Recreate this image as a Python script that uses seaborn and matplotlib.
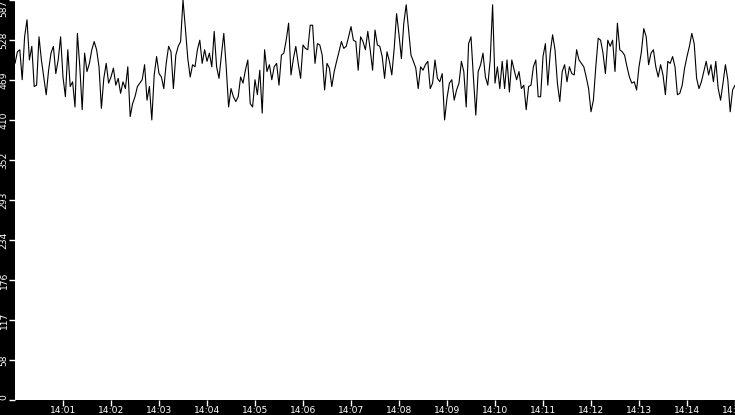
import matplotlib
matplotlib.use("Agg")
import matplotlib.pyplot as plt
import numpy as np
import pandas as pd
import seaborn as sns

# ---- data (one sample every 3 s from 14:00:00) ----
start_time = "2024-01-01 14:00:00"
sample_step = "3s"
values = [
    494, 511, 514, 470, 533, 558, 499, 519, 460, 462,
    533, 499, 474, 448, 484, 509, 519, 479, 499, 533,
    474, 445, 514, 460, 467, 430, 538, 489, 426, 509,
    482, 494, 514, 526, 514, 489, 428, 472, 494, 465,
    474, 487, 462, 472, 450, 467, 457, 489, 416, 435,
    445, 460, 465, 470, 492, 440, 460, 411, 477, 504,
    479, 474, 457, 494, 519, 511, 457, 506, 519, 526,
    587, 545, 501, 474, 492, 489, 514, 528, 494, 514,
    497, 509, 489, 541, 489, 472, 506, 538, 489, 430,
    457, 445, 438, 445, 474, 465, 484, 499,
    435, 430, 470, 448, 484, 421, 514, 482, 492, 470,
    489, 494, 462, 506, 509, 528, 553, 477, 501, 519,
    494, 472, 521, 516, 514, 550, 550, 494, 523, 521,
    506, 455, 494, 487, 460, 482, 497, 511, 526, 516,
    519, 533, 548, 528, 526, 484, 533, 526, 514, 541,
    514, 484, 543, 521, 519, 504, 472, 511, 497, 477,
    516, 567, 536, 501, 553, 580, 543, 506, 497, 487,
    457, 489, 484, 492, 497, 457, 465, 499, 472, 467,
    479, 411, 443, 465, 470, 440, 455, 465, 497, 482,
    430, 523, 533, 474, 418, 482, 492, 509, 474, 462,
    499, 580, 465, 489, 457, 497, 457, 499, 452, 499,
    484, 470, 482, 457, 462, 426, 460, 462, 489, 499,
    445, 445, 504, 523, 462, 509, 536, 514, 465, 438,
    482, 492, 467, 489, 479, 477, 514, 499, 494, 489,
    474, 457, 423, 440, 489, 531, 528, 509, 479, 528,
    519, 528, 482, 553, 514, 511, 506, 489, 474, 465,
    467, 455, 489, 511, 545, 533, 492, 509, 514, 489,
    474, 492, 477, 448, 497, 494, 504, 489, 448, 450,
    462, 487, 504, 519, 538, 523, 472, 457, 467, 482,
    497, 477, 492, 467, 497, 457, 440, 465, 492, 470,
    423, 455, 462,
]
y_max = 587
y_tick_values = [y_max * i / 10 for i in range(11)]
y_tick_labels = [str(int(v)) for v in y_tick_values]
x_tick_labels = ["14:%02d" % m for m in range(1, 16)]

times = pd.date_range(start_time, periods=len(values), freq=sample_step)
df = pd.DataFrame({"time": times, "value": values})

sns.set_style("white")
plt.rcParams["font.family"] = ["DejaVu Sans"]

W, H = 735, 415
fig = plt.figure(figsize=(W / 100, H / 100), dpi=100, facecolor="black")
ax = fig.add_axes([15 / W, 15 / H, 720 / W, 400 / H])
ax.set_facecolor("white")

sns.lineplot(data=df, x="time", y="value", ax=ax, color="black", linewidth=0.8)

t0 = pd.Timestamp(start_time)
ax.set_xlim(t0, t0 + pd.Timedelta(minutes=15))
ax.set_ylim(0, y_max)

ax.set_yticks(y_tick_values)
ax.set_yticklabels(y_tick_labels)
ax.set_xticks([t0 + pd.Timedelta(minutes=i) for i in range(1, 16)])
ax.set_xticklabels(x_tick_labels)

ax.tick_params(colors="white", labelsize=6.6, length=4, width=1, pad=0.5,
               left=True, bottom=True)
labels = ax.get_yticklabels()
for i, lab in enumerate(labels):
    lab.set_rotation(90)
    lab.set_va("center")
labels[0].set_va("bottom")
labels[-1].set_va("top")

ax.set_xlabel("")
ax.set_ylabel("")
for s in ax.spines.values():
    s.set_visible(False)

fig.savefig("out.png", dpi=100, facecolor="black")
